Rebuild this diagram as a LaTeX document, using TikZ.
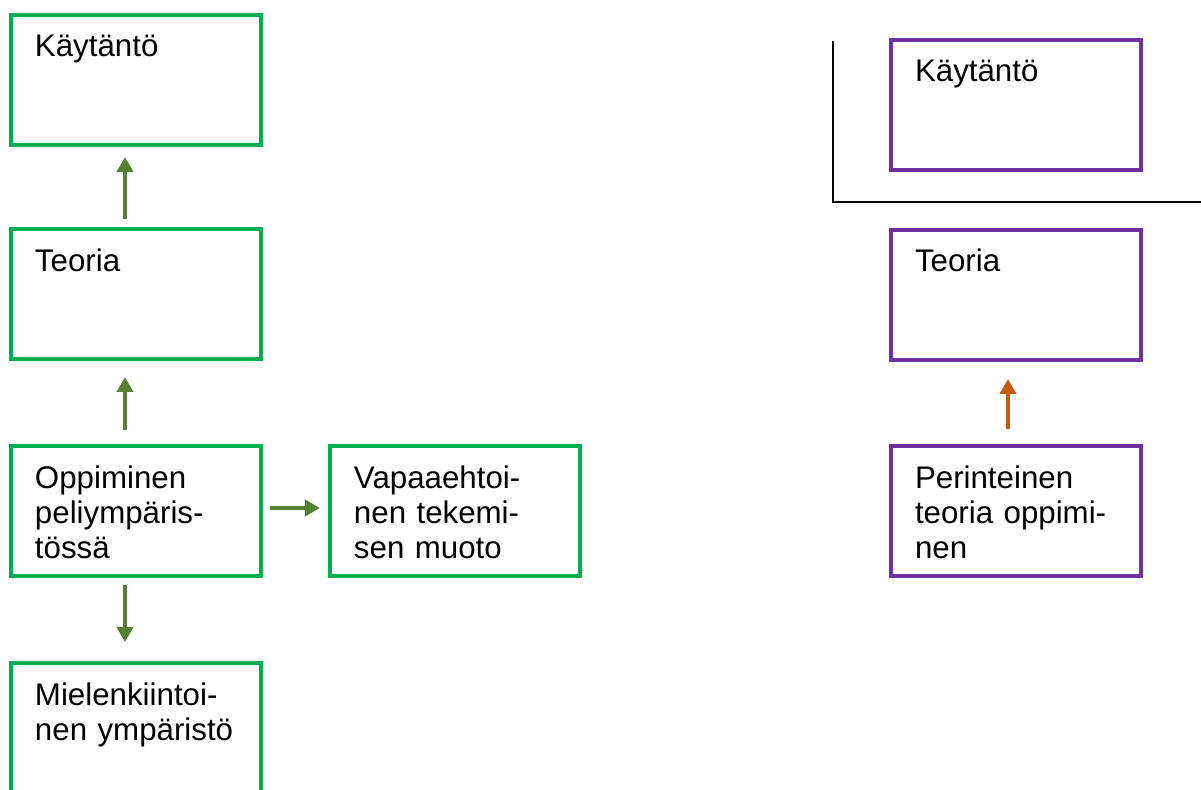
\documentclass[tikz,border=0pt]{standalone}
\usepackage{fontspec}
\setmainfont{Liberation Sans}
\usetikzlibrary{arrows.meta}
\definecolor{boxgreen}{HTML}{00B050}
\definecolor{arrowgreen}{HTML}{548235}
\definecolor{boxpurple}{HTML}{7030A0}
\definecolor{arroworange}{HTML}{C55A11}
\tikzset{
  box/.style={draw=boxgreen, line width=2pt, anchor=north west, align=left,
    text width=4.04cm, inner xsep=0.48cm, inner ysep=0pt, outer sep=0pt,
    text height=0.84cm, text depth=1.76cm,
    font=\fontsize{17.8}{20.2}\selectfont},
  pbox/.style={box, draw=boxpurple},
  arr/.style={draw=arrowgreen, line width=2.2pt,
    -{Triangle[length=0.3cm,width=0.32cm]}},
}
\begin{document}
\begin{tikzpicture}[x=0.02cm,y=-0.02cm]
  \useasboundingbox (0,0) rectangle (1201,789);
  \clip (0,0) rectangle (1201,789);

  \node[box] (kaytanto) at (11,15) {Käytäntö};
  \node[box] (teoria) at (11,229) {Teoria};
  \node[box] (oppiminen) at (11,446) {Oppiminen\\peliympäris-\\tössä};
  \node[box] (vapaa) at (330,446) {Vapaaehtoi-\\nen tekemi-\\sen muoto};
  \node[box] (mielenk) at (11,663) {Mielenkiintoi-\\nen ympäristö};

  \node[pbox] (pkaytanto) at (891,40) {Käytäntö};
  \node[pbox] (pteoria) at (891,230) {Teoria};
  \node[pbox] (perinteinen) at (891,446) {Perinteinen\\teoria oppimi-\\nen};

  \draw[arr, shorten <=0.2cm, shorten >=0.24cm]
    ([xshift=2.28cm]teoria.north west) -- ([xshift=2.28cm]kaytanto.south west);
  \draw[arr, shorten <=0.32cm, shorten >=0.36cm]
    ([xshift=2.28cm]oppiminen.north west) -- ([xshift=2.28cm]teoria.south west);
  \draw[arr, shorten <=0.18cm, shorten >=0.42cm]
    ([xshift=2.28cm]oppiminen.south west) -- ([xshift=2.28cm]mielenk.north west);
  \draw[arr, shorten <=0.18cm, shorten >=0.2cm]
    ([yshift=0.06cm]oppiminen.east) -- ([yshift=0.06cm]vapaa.west);
  \draw[arr, draw=arroworange, shorten <=0.34cm, shorten >=0.38cm]
    ([xshift=2.34cm]perinteinen.north west) -- ([xshift=2.34cm]pteoria.south west);

  \draw[line width=1.2pt] (833,41) -- (833,202) -- (1201,202);
\end{tikzpicture}
\end{document}
